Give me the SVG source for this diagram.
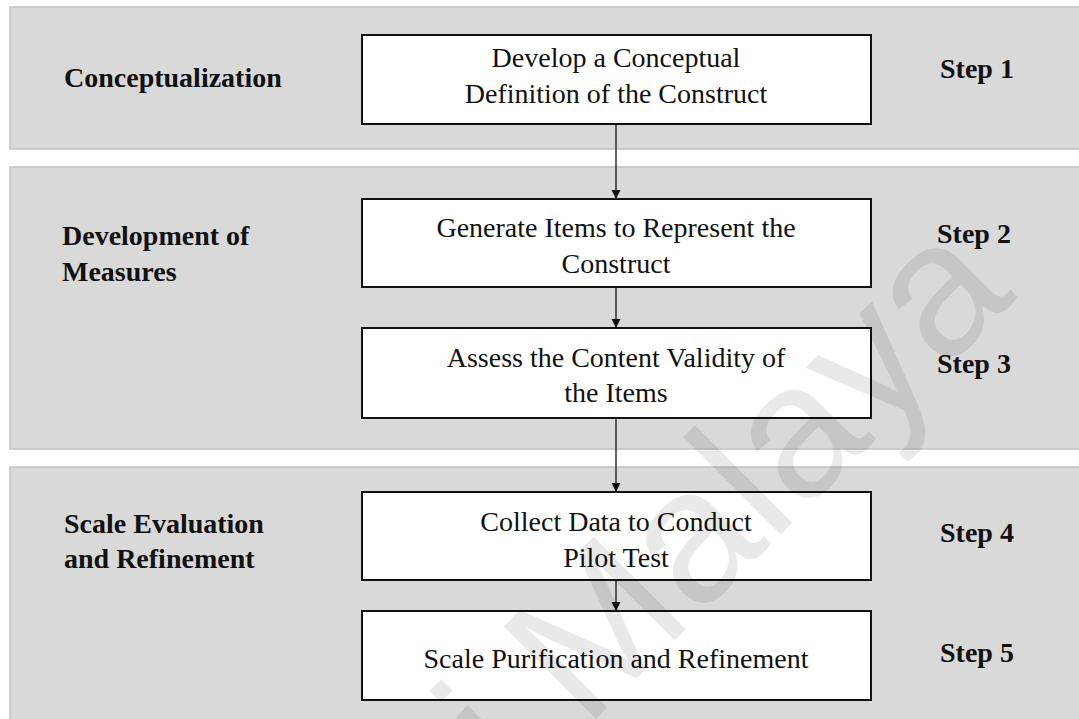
<svg xmlns="http://www.w3.org/2000/svg" width="1079" height="719" viewBox="0 0 1079 719">
  <defs>
    <style>
      .band { fill: #d9d9d9; stroke: #c2c2c2; stroke-width: 1.5; }
      .box { fill: #ffffff; stroke: #111111; stroke-width: 2; }
      .txt { font-family: 'Liberation Serif', 'DejaVu Serif', serif; font-size: 28px; fill: #111111; }
      .c { text-anchor: middle; }
      .b { font-weight: bold; }
      .conn { stroke: #111111; stroke-width: 1.3; fill: none; marker-end: url(#arrow); }
      .wm { font-family: 'Liberation Sans', sans-serif; font-size: 190px; fill: #000000; fill-opacity: 0.085; }
    </style>
    <marker id="arrow" viewBox="0 0 10 10" refX="10" refY="5" markerWidth="9" markerHeight="10" markerUnits="userSpaceOnUse" orient="auto">
      <path d="M0,0 L10,5 L0,10 Z" fill="#111111"/>
    </marker>
  </defs>

  <rect width="1079" height="719" fill="#ffffff"/>

  <!-- phase bands -->
  <g id="bands">
    <rect class="band" x="10" y="7" width="1075" height="142"/>
    <rect class="band" x="10" y="167" width="1075" height="282"/>
    <rect class="band" x="10" y="467" width="1075" height="260"/>
  </g>

  <!-- phase labels -->
  <g id="phase-conceptualization">
    <text class="txt b" x="64" y="87">Conceptualization</text>
  </g>
  <g id="phase-development">
    <text class="txt b" x="62" y="245">Development of</text>
    <text class="txt b" x="62" y="281">Measures</text>
  </g>
  <g id="phase-evaluation">
    <text class="txt b" x="64" y="533">Scale Evaluation</text>
    <text class="txt b" x="64" y="568">and Refinement</text>
  </g>

  <!-- connectors -->
  <g id="connectors">
    <line class="conn" x1="616" y1="124" x2="616" y2="199"/>
    <line class="conn" x1="616" y1="287" x2="616" y2="328"/>
    <line class="conn" x1="616" y1="418" x2="616" y2="492"/>
    <line class="conn" x1="616" y1="580" x2="616" y2="611"/>
  </g>

  <!-- steps -->
  <g id="step1">
    <rect class="box" x="362" y="35" width="509" height="89"/>
    <text class="txt c" x="616" y="67">Develop a Conceptual</text>
    <text class="txt c" x="616" y="103">Definition of the Construct</text>
  </g>
  <g id="step2">
    <rect class="box" x="362" y="199" width="509" height="88"/>
    <text class="txt c" x="616" y="237">Generate Items to Represent the</text>
    <text class="txt c" x="616" y="273">Construct</text>
  </g>
  <g id="step3">
    <rect class="box" x="362" y="328" width="509" height="90"/>
    <text class="txt c" x="616" y="367">Assess the Content Validity of</text>
    <text class="txt c" x="616" y="402">the Items</text>
  </g>
  <g id="step4">
    <rect class="box" x="362" y="492" width="509" height="88"/>
    <text class="txt c" x="616" y="531">Collect Data to Conduct</text>
    <text class="txt c" x="616" y="567">Pilot Test</text>
  </g>
  <g id="step5">
    <rect class="box" x="362" y="611" width="509" height="89"/>
    <text class="txt c" x="616" y="668">Scale Purification and Refinement</text>
  </g>

  <!-- step numbers -->
  <g id="step-labels">
    <text class="txt b" x="940" y="78">Step 1</text>
    <text class="txt b" x="937" y="243">Step 2</text>
    <text class="txt b" x="937" y="373">Step 3</text>
    <text class="txt b" x="940" y="542">Step 4</text>
    <text class="txt b" x="940" y="662">Step 5</text>
  </g>

  <!-- repository watermark -->
  <g id="watermark">
    <text class="wm" x="0" y="0" text-anchor="end" transform="translate(1018,297) rotate(-45)">Universiti Malaya</text>
  </g>
</svg>
